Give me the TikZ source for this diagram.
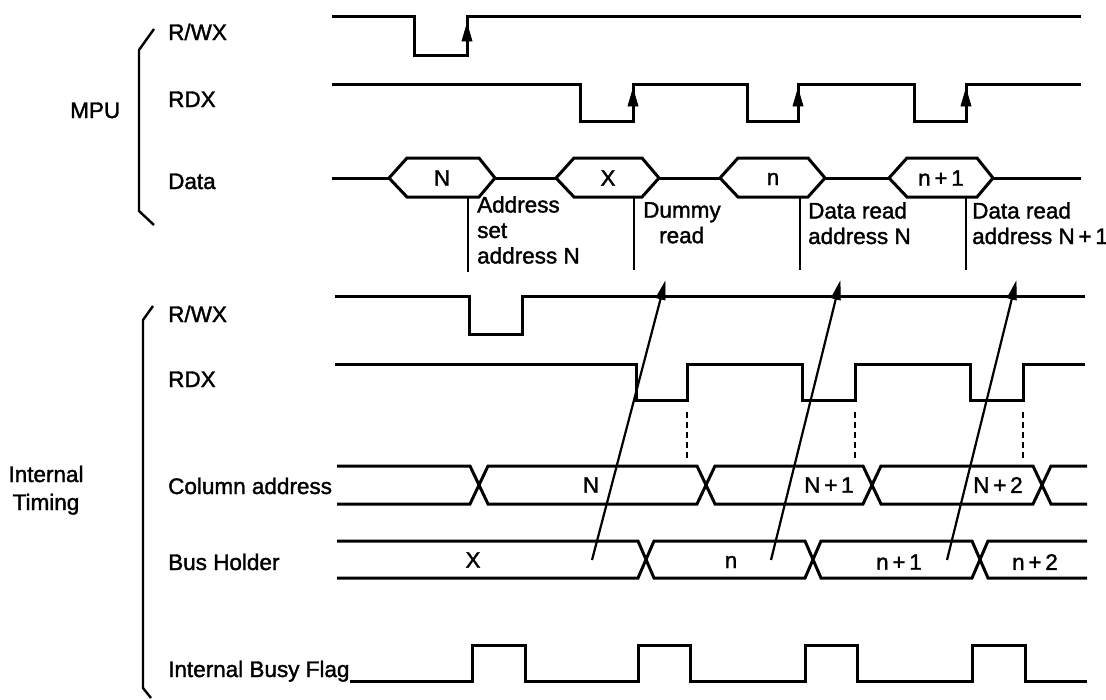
\documentclass[tikz,border=0pt]{standalone}
\usepackage{fontspec}
\setmainfont{Liberation Sans}[FakeBold=1.6]
\usetikzlibrary{calc}
\begin{document}
\begin{tikzpicture}[x=1pt,y=-1pt,
  sig/.style={line width=3pt, line join=miter},
  thin/.style={line width=2.4pt},
  lbl/.style={anchor=base west, inner sep=0pt, font=\fontsize{22.5}{26}\selectfont},
  val/.style={anchor=center, inner sep=0pt, font=\fontsize{22.5}{26}\selectfont},
  note/.style={anchor=north west, inner sep=0pt, align=left, font=\fontsize{22.5}{25.5}\selectfont},
  tip/.style={fill=black, draw=black, line width=0.8pt, line join=miter},
  diag/.style={line width=2.2pt},
  dsh/.style={line width=2.6pt, dash pattern=on 6pt off 4pt}]
\useasboundingbox (0,0) rectangle (1106,699);

% ---------- MPU labels ----------
\node[lbl] (mpu) at (70,118) {MPU};
\node[lbl] (mrw) at (168,40) {R/WX};
\node[lbl] (mrd) at (168,107) {RDX};
\node[lbl] (mdata) at (168,189) {Data};
\draw[thin] (154,29) -- (139,50) -- (139,211) -- (154,225);

% MPU R/WX
\draw[sig] (332,16) -- (414,16) -- (414,55) -- (467,55) -- (467,16) -- (1081,16);
\fill[tip] (467,24) -- (462,41) -- (472,41) -- cycle;
% MPU RDX
\draw[sig] (332,84) -- (580,84) -- (580,121) -- (633,121) -- (633,84) -- (747,84) -- (747,121)
  -- (798,121) -- (798,84) -- (914,84) -- (914,121) -- (966,121) -- (966,84) -- (1081,84);
\fill[tip] (633,89) -- (628,106) -- (638,106) -- cycle;
\fill[tip] (798,89) -- (793,106) -- (803,106) -- cycle;
\fill[tip] (966,89) -- (961,106) -- (971,106) -- cycle;
% MPU Data
\draw[sig] (332,178) -- (389,178);
\draw[sig] (495,178) -- (556,178);
\draw[sig] (659,178) -- (720,178);
\draw[sig] (825,178) -- (889,178);
\draw[sig] (993,178) -- (1081,178);
\draw[sig] (389,178) -- (407,158) -- (479,158) -- (495,178) -- (479,197) -- (407,197) -- cycle;
\draw[sig] (556,178) -- (574,158) -- (642,158) -- (659,178) -- (642,197) -- (574,197) -- cycle;
\draw[sig] (720,178) -- (738,158) -- (808,158) -- (825,178) -- (808,197) -- (738,197) -- cycle;
\draw[sig] (889,178) -- (907,158) -- (977,158) -- (993,178) -- (977,197) -- (907,197) -- cycle;
\node[val] (dN) at (442,178) {N};
\node[val] (dX) at (608,178) {X};
\node[val] (dn) at (773,179) {n};
\node[val] (dn1) at (941,178) {n\,+\,1};

% ---------- annotations ----------
\draw[thin] (468,197) -- (468,272);
\draw[thin] (634,197) -- (634,270);
\draw[thin] (800,197) -- (800,270);
\draw[thin] (966,197) -- (966,270);
\node[note] (n1) at (477,196) {Address\\set\\address N};
\node[note] (n2) at (643,202) {Dummy\\\hspace*{16pt}read};
\node[note] (n3) at (808,202) {Data read\\address N};
\node[note] (n4) at (972,202) {Data read\\address N\,+\,1};

% ---------- Internal labels ----------
\node[anchor=base, inner sep=0pt, align=center, font=\fontsize{22.5}{28}\selectfont] (it) at (46,510) {Internal\\Timing};
\node[lbl] (irw) at (168,322) {R/WX};
\node[lbl] (ird) at (168,387) {RDX};
\node[lbl] (icol) at (168,494) {Column address};
\node[lbl] (ibus) at (168,570) {Bus Holder};
\node[lbl] (ibf) at (168,677) {Internal Busy Flag};
\draw[thin] (153,306) -- (143,320) -- (143,688) -- (151,698);

% Internal R/WX
\draw[sig] (335,296) -- (469,296) -- (469,334) -- (522,334) -- (522,296) -- (1085,296);
% Internal RDX
\draw[sig] (335,364) -- (636,364) -- (636,400) -- (687,400) -- (687,364) -- (802,364) -- (802,400)
  -- (855,400) -- (855,364) -- (970,364) -- (970,400) -- (1023,400) -- (1023,364) -- (1085,364);
\draw[dsh] (687,412) -- (687,460);
\draw[dsh] (855,412) -- (855,460);
\draw[dsh] (1023,412) -- (1023,460);

% Column address
\draw[sig] (337,466) -- (470,466) -- (488,504) -- (697,504) -- (715,466) -- (863,466) -- (881,504) -- (1033,504) -- (1051,466) -- (1087,466);
\draw[sig] (337,504) -- (470,504) -- (488,466) -- (697,466) -- (715,504) -- (863,504) -- (881,466) -- (1033,466) -- (1051,504) -- (1087,504);
\node[val] (cN) at (591,485) {N};
\node[val] (cN1) at (829,485) {N\,+\,1};
\node[val] (cN2) at (998,485) {N\,+\,2};

% Bus Holder
\draw[sig] (337,541) -- (638,541) -- (654,578) -- (805,578) -- (821,541) -- (972,541) -- (988,578) -- (1087,578);
\draw[sig] (337,578) -- (638,578) -- (654,541) -- (805,541) -- (821,578) -- (972,578) -- (988,541) -- (1087,541);
\node[val] (bX) at (473,560) {X};
\node[val] (bn) at (731,562) {n};
\node[val] (bn1) at (899,562) {n\,+\,1};
\node[val] (bn2) at (1035,562) {n\,+\,2};

% Internal Busy Flag
\draw[sig] (350,681) -- (472,681) -- (472,645) -- (525,645) -- (525,681) -- (638,681) -- (638,645) -- (690,645)
  -- (690,681) -- (805,681) -- (805,645) -- (857,645) -- (857,681) -- (972,681) -- (972,645) -- (1025,645) -- (1025,681) -- (1087,681);

% diagonal arrows
\coordinate (a1s) at (592,560); \coordinate (a1e) at (665,282);
\coordinate (a2s) at (771,560); \coordinate (a2e) at (840,282);
\coordinate (a3s) at (947,560); \coordinate (a3e) at (1016,282);
\foreach \s/\e in {a1s/a1e, a2s/a2e, a3s/a3e} {
  \draw[diag] (\s) -- ($(\e)!8pt!(\s)$);
  \fill[tip] (\e) -- ($(\e)!18pt!15:(\s)$) -- ($(\e)!18pt!-15:(\s)$) -- cycle;
}
\end{tikzpicture}
\end{document}
